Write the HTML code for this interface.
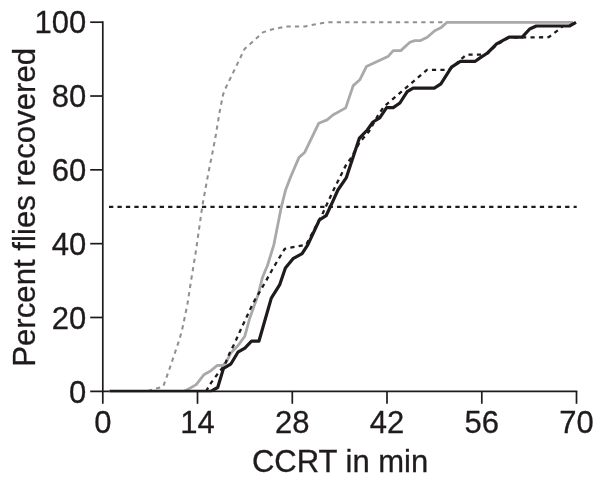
<!DOCTYPE html>
<html><head><meta charset="utf-8"><title>CCRT</title>
<style>html,body{margin:0;padding:0;background:#fff}svg{display:block}text{font-family:"Liberation Sans",Arial,Helvetica,sans-serif;fill:#1f1b1c;stroke:#1f1b1c;stroke-width:0.3px}</style></head>
<body>
<svg width="604" height="484" viewBox="0 0 604 484">
<rect width="604" height="484" fill="#fff"/>
<g stroke="#1f1b1c" stroke-width="1.7" fill="none" stroke-linecap="butt">
<path d="M102.8,21.349999999999998 V403.8"/>
<path d="M90.2,391.3 H577.34"/>
<path d="M90.2,317.48 H102.8"/>
<path d="M90.2,243.66000000000003 H102.8"/>
<path d="M90.2,169.84000000000003 H102.8"/>
<path d="M90.2,96.02000000000004 H102.8"/>
<path d="M90.2,22.200000000000045 H102.8"/>
<path d="M197.5,391.3 V403.8"/>
<path d="M292.3,391.3 V403.8"/>
<path d="M387.0,391.3 V403.8"/>
<path d="M481.8,391.3 V403.8"/>
<path d="M576.5,391.3 V403.8"/>
</g>
<path d="M109,206.9 H576.7" stroke="#1f1b1c" stroke-width="2.1" stroke-dasharray="4.3 4.147" fill="none"/>
<clipPath id="c"><rect x="100" y="0" width="500" height="392.15000000000003"/></clipPath><g clip-path="url(#c)">
<polyline points="109.5,391.3 146.5,391.3 163.2,386.6 170.5,366.0 178.2,343.2 181.7,331.7 187.3,305.0 191.5,278.0 195.6,253.1 199.4,226.7 202.2,206.8 208.0,174.8 213.0,150.0 215.6,136.3 219.7,111.5 223.0,94.9 224.7,90.0 244.6,48.9 251.2,43.1 262.8,32.4 271.6,29.5 279.9,27.8 287.3,26.5 304.7,26.5 313.0,24.8 321.3,23.2 328.7,22.3 447.0,22.3" stroke="#909092" stroke-width="2.05" stroke-dasharray="4.25 4.2" stroke-dashoffset="3.75" fill="none" stroke-linejoin="round"/>
<polyline points="109.5,391.3 184.6,391.3 196.2,384.6 203.8,374.8 210.1,371.3 217.1,365.5 222.9,365.3 226.3,362.0 231.0,352.7 237.9,345.8 244.8,336.2 249.8,318.0 258.1,294.8 262.2,278.3 265.5,270.0 267.3,266.0 273.9,244.6 281.4,206.6 285.6,190.0 290.7,176.8 298.9,157.6 304.8,152.2 318.8,123.2 327.1,119.9 332.9,115.0 345.7,107.9 353.2,85.6 359.8,79.8 366.4,66.6 387.9,56.6 393.3,50.6 400.8,50.6 409.9,42.3 414.8,40.6 420.6,40.6 427.3,37.3 434.7,30.7 441.3,27.4 447.1,22.3 573.0,22.3" stroke="#a9a9ab" stroke-width="2.8" fill="none" stroke-linejoin="round"/>
<polyline points="206.0,391.3 211.0,382.9 217.9,373.6 224.6,365.0 229.8,352.7 234.5,343.5 241.5,327.9 253.1,303.1 264.7,283.2 272.6,269.0 284.7,248.8 306.2,244.6 322.8,213.2 332.7,191.7 346.2,164.6 351.1,158.0 359.8,142.0 369.0,131.5 378.5,114.5 384.0,106.5 427.0,69.9 448.9,69.9 456.2,63.8 459.5,60.5 466.2,54.7 482.7,54.7 487.5,53.5 496.6,44.9 509.0,37.6 548.7,37.2 558.6,29.8 563.0,26.0" stroke="#1f1b1c" stroke-width="2.3" stroke-dasharray="4.2 4.25" fill="none" stroke-linejoin="round"/>
<polyline points="109.5,391.3 210.7,391.3 217.7,387.5 223.5,368.4 231.0,363.8 237.9,352.2 244.9,348.1 251.5,341.2 258.9,341.2 271.3,298.1 279.6,284.9 285.4,268.0 293.0,258.7 302.1,253.7 307.9,244.6 319.5,219.8 326.1,215.7 332.7,201.6 337.9,190.0 346.2,177.9 359.4,138.1 367.3,130.0 373.0,122.0 379.7,117.9 386.6,107.6 393.2,107.6 399.9,103.0 407.2,91.7 413.1,88.1 434.3,88.1 440.9,83.8 451.5,67.2 460.4,61.3 475.3,61.3 480.0,57.9 487.5,53.0 496.6,43.9 509.0,37.2 522.2,37.2 529.7,29.0 536.3,26.0 569.4,26.0 576.0,22.3" stroke="#1f1b1c" stroke-width="3.2" fill="none" stroke-linejoin="round"/>
</g>
<text x="86.2" y="402.5" font-size="31" text-anchor="end">0</text>
<text x="86.2" y="328.7" font-size="31" text-anchor="end">20</text>
<text x="86.2" y="254.9" font-size="31" text-anchor="end">40</text>
<text x="86.2" y="181.0" font-size="31" text-anchor="end">60</text>
<text x="86.2" y="107.2" font-size="31" text-anchor="end">80</text>
<text x="86.2" y="33.4" font-size="31" text-anchor="end">100</text>
<text x="102.8" y="432.8" font-size="31" text-anchor="middle">0</text>
<text x="197.5" y="432.8" font-size="31" text-anchor="middle">14</text>
<text x="292.3" y="432.8" font-size="31" text-anchor="middle">28</text>
<text x="387.0" y="432.8" font-size="31" text-anchor="middle">42</text>
<text x="481.8" y="432.8" font-size="31" text-anchor="middle">56</text>
<text x="576.5" y="432.8" font-size="31" text-anchor="middle">70</text>
<text x="340.1" y="472.1" font-size="31" text-anchor="middle">CCRT in min</text>
<text transform="translate(34.9,207.3) rotate(-90)" font-size="31.2" text-anchor="middle">Percent flies recovered</text>
</svg>
</body></html>
